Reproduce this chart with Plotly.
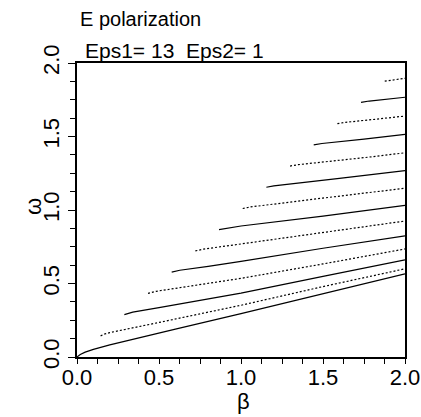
import plotly.graph_objects as go

# Mode dispersion curves (beta, omega)
beta_0 = [0, 0.02, 0.05, 0.1, 0.2, 0.4, 0.6, 1.0, 1.5, 2.0]
omega_0 = [0, 0.017, 0.033, 0.052, 0.082, 0.137, 0.190, 0.295, 0.430, 0.566]
beta_1 = [0.144, 0.17, 0.2, 0.3, 0.5, 1.0, 1.5, 2.0]
omega_1 = [0.144, 0.157, 0.166, 0.190, 0.235, 0.352, 0.479, 0.600]
beta_2 = [0.2887, 0.34, 0.5, 1.0, 1.5, 2.0]
omega_2 = [0.2887, 0.305, 0.336, 0.434, 0.549, 0.661]
beta_3 = [0.433, 0.483, 0.7, 1.0, 1.5, 2.0]
omega_3 = [0.433, 0.447, 0.484, 0.535, 0.633, 0.735]
beta_4 = [0.5774, 0.627, 0.8, 1.0, 1.5, 2.0]
omega_4 = [0.5774, 0.590, 0.617, 0.650, 0.740, 0.824]
beta_5 = [0.7217, 0.772, 1.0, 1.5, 2.0]
omega_5 = [0.7217, 0.734, 0.769, 0.847, 0.925]
beta_6 = [0.866, 0.916, 1.0, 1.5, 2.0]
omega_6 = [0.866, 0.877, 0.891, 0.958, 1.031]
beta_7 = [1.0104, 1.06, 1.5, 2.0]
omega_7 = [1.0104, 1.021, 1.081, 1.148]
beta_8 = [1.1547, 1.2, 1.6, 2.0]
omega_8 = [1.1547, 1.164, 1.215, 1.268]
beta_9 = [1.299, 1.349, 1.75, 2.0]
omega_9 = [1.299, 1.3085, 1.356, 1.389]
beta_10 = [1.4434, 1.4934, 1.75, 2.0]
omega_10 = [1.4434, 1.4525, 1.482, 1.514]
beta_11 = [1.5877, 1.6377, 1.8, 2.0]
omega_11 = [1.5877, 1.5965, 1.615, 1.639]
beta_12 = [1.7321, 1.7821, 2.0]
omega_12 = [1.7321, 1.7413, 1.767]
beta_13 = [1.8764, 1.9264, 2.0]
omega_13 = [1.8764, 1.8845, 1.896]

modes = [
    (beta_0, omega_0), (beta_1, omega_1), (beta_2, omega_2), (beta_3, omega_3),
    (beta_4, omega_4), (beta_5, omega_5), (beta_6, omega_6), (beta_7, omega_7),
    (beta_8, omega_8), (beta_9, omega_9), (beta_10, omega_10), (beta_11, omega_11),
    (beta_12, omega_12), (beta_13, omega_13),
]

tick_vals = [0.0, 0.5, 1.0, 1.5, 2.0]
tick_text = ["0.0", "0.5", "1.0", "1.5", "2.0"]

title_text = "E polarization"
subtitle_text = "Eps1= 13  Eps2= 1"

FONT = "Liberation Sans, Arial, Helvetica, sans-serif"

fig = go.Figure()
for i, (b, w) in enumerate(modes):
    fig.add_trace(go.Scatter(
        x=b, y=w, mode="lines",
        line=dict(color="black", width=1.2,
                  dash="solid" if i % 2 == 0 else "2px,2px"),
        showlegend=False, hoverinfo="skip",
    ))

W, H = 421, 417
L, R, T, B = 77, 16, 63, 60
pw, ph = W - L - R, H - T - B

def px_x(px):
    return (px - L) / pw

def px_y(py):
    return (H - B - py) / ph

fig.update_layout(
    width=W, height=H,
    margin=dict(l=L, r=R, t=T, b=B, pad=0, autoexpand=False),
    paper_bgcolor="white", plot_bgcolor="white",
    font=dict(family=FONT, color="black"),
    xaxis=dict(
        range=[0, 2], tickvals=tick_vals, ticktext=tick_text,
        showgrid=False, zeroline=False, automargin=False,
        showline=True, linecolor="black", linewidth=1.5, mirror=True,
        ticks="outside", ticklen=5, tickwidth=1, tickcolor="black",
        ticklabelstandoff=-5,
        minor=dict(dtick=0.125, ticks="outside", ticklen=5, tickwidth=1,
                   tickcolor="black", showgrid=False),
        tickfont=dict(size=22, family=FONT),
    ),
    yaxis=dict(
        range=[0, 2], tickvals=tick_vals, ticktext=tick_text,
        showgrid=False, zeroline=False, automargin=False,
        showline=True, linecolor="black", linewidth=1.5, mirror=True,
        ticks="outside", ticklen=7, tickwidth=1, tickcolor="black",
        minor=dict(dtick=0.125, ticks="outside", ticklen=5, tickwidth=1,
                   tickcolor="black", showgrid=False),
        tickfont=dict(size=22, family=FONT), tickangle=-90,
    ),
    annotations=[
        dict(text=title_text, xref="paper", yref="paper",
             x=px_x(78), y=px_y(18.5), xanchor="left", yanchor="middle",
             showarrow=False, font=dict(size=20, family=FONT)),
        dict(text=subtitle_text, xref="paper", yref="paper",
             x=px_x(83), y=px_y(51), xanchor="left", yanchor="middle",
             showarrow=False, font=dict(size=21, family=FONT)),
        dict(text="β", xref="paper", yref="paper",
             x=px_x(243), y=px_y(401), xanchor="center", yanchor="middle",
             showarrow=False, font=dict(size=22, family=FONT)),
        dict(text="ω", xref="paper", yref="paper",
             x=px_x(33), y=px_y(207), xanchor="center", yanchor="middle",
             textangle=-90, showarrow=False, font=dict(size=22, family=FONT)),
    ],
)

fig.write_html("out.html", config={"displayModeBar": False})
